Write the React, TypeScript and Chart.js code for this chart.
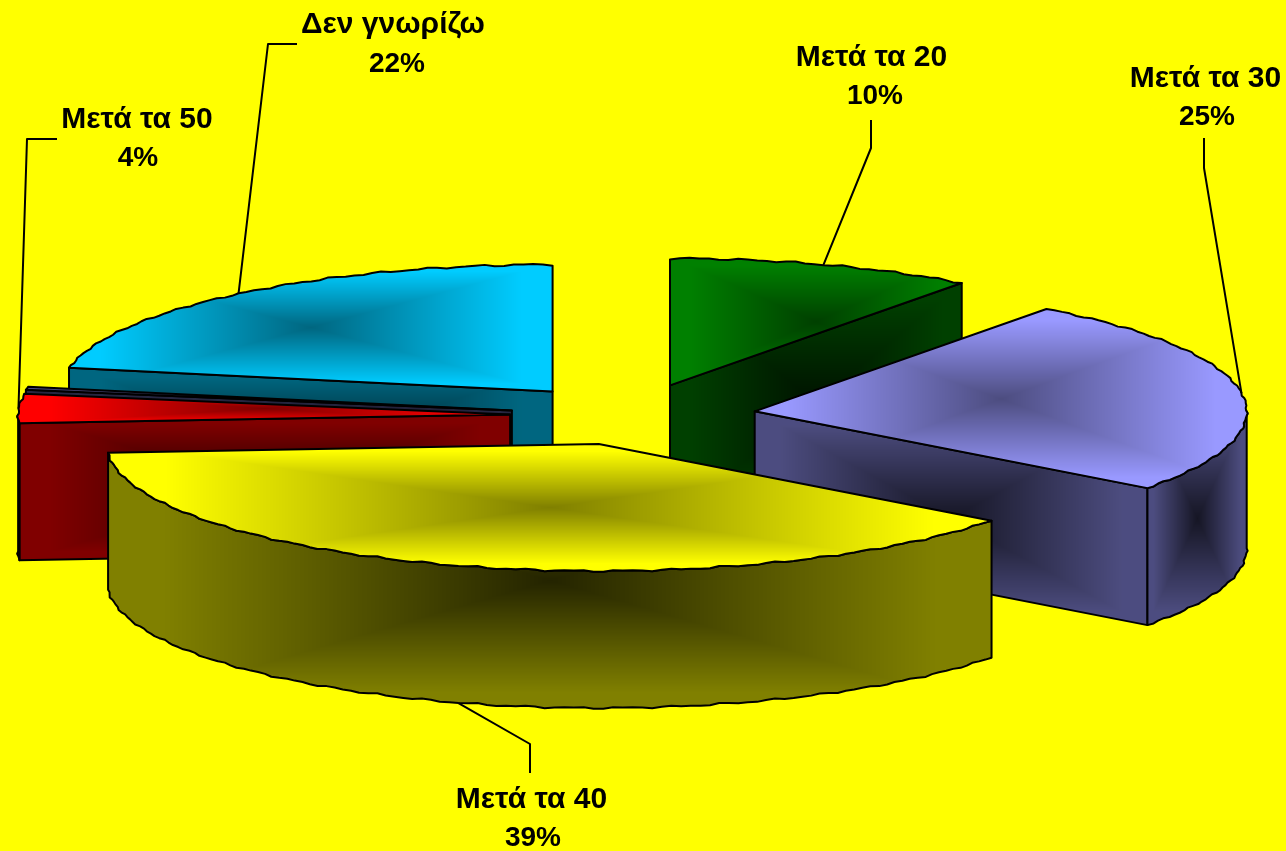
import React, { useEffect, useRef } from "react";
import { Chart, registerables } from "chart.js";

Chart.register(...registerables);

const categories = ["Μετά τα 20", "Μετά τα 30", "Μετά τα 40", "Μετά τα 50", "", "Δεν γνωρίζω"];
const values = [10.1, 25.2, 38.6, 3.7, 0.4, 22];
const faceColors: number[][] = [
  [0, 128, 0],
  [153, 153, 255],
  [255, 255, 0],
  [255, 0, 0],
  [76, 76, 128],
  [0, 204, 255],
];
const explode = [125, 125, 113, 121, 121, 123];

// Label placement only: text centres, first and second baseline, elbow of the leader line.
const labelLayout = [
  { cx: 871.5, cx2: 875, y1: 66, y2: 104, elbow: [871, 148], end: [871, 120] },
  { cx: 1205.5, cx2: 1207, y1: 87, y2: 125, elbow: [1204, 168], end: [1204, 138] },
  { cx: 531.5, cx2: 533, y1: 808, y2: 846, elbow: [530, 744], end: [530, 773] },
  { cx: 137, cx2: 138, y1: 128, y2: 166, elbow: [27, 139], end: [57, 139] },
  null,
  { cx: 393, cx2: 397, y1: 33, y2: 72, elbow: [268, 44], end: [297, 44] },
];

const RADIUS = 492;
const SQUASH = 127 / 492;
const DEPTH = 137;

type Pt = [number, number];

function fillRectGradient(ctx: CanvasRenderingContext2D, pts: Pt[], edge: number[], centre: number[]) {
  const xs = pts.map((p) => p[0]);
  const ys = pts.map((p) => p[1]);
  const x0 = Math.floor(Math.min(...xs));
  const x1 = Math.ceil(Math.max(...xs));
  const y0 = Math.floor(Math.min(...ys));
  const y1 = Math.ceil(Math.max(...ys));
  const w = Math.max(1, x1 - x0);
  const h = Math.max(1, y1 - y0);
  const off = document.createElement("canvas");
  off.width = w;
  off.height = h;
  const octx = off.getContext("2d")!;
  const img = octx.createImageData(w, h);
  const hw = w / 2;
  const hh = h / 2;
  for (let j = 0; j < h; j++) {
    for (let i = 0; i < w; i++) {
      const t = Math.min(1, Math.max(Math.abs(i + 0.5 - hw) / hw, Math.abs(j + 0.5 - hh) / hh) / 0.87);
      const k = (i + j * w) * 4;
      for (let c = 0; c < 3; c++) img.data[k + c] = centre[c] + (edge[c] - centre[c]) * t;
      img.data[k + 3] = 255;
    }
  }
  octx.putImageData(img, 0, 0);
  const trace = () => {
    ctx.beginPath();
    pts.forEach((p, i) => (i ? ctx.lineTo(p[0], p[1]) : ctx.moveTo(p[0], p[1])));
    ctx.closePath();
  };
  ctx.save();
  trace();
  ctx.clip();
  ctx.drawImage(off, x0, y0);
  ctx.restore();
  trace();
  ctx.stroke();
}

const mul = (c: number[], k: number) => c.map((v) => v * k);

const pie3d = {
  id: "pie3d",
  beforeDatasetsDraw(chart: any) {
    const ctx: CanvasRenderingContext2D = chart.ctx;
    const meta = chart.getDatasetMeta(0);
    const slices = meta.data.map((el: any, index: number) => {
      const p = el.getProps(["x", "y", "startAngle", "endAngle", "outerRadius"], true);
      const mid = (p.startAngle + p.endAngle) / 2;
      const offset = el.options.offset;
      return {
        index,
        mid,
        start: p.startAngle,
        end: p.endAngle,
        r: p.outerRadius,
        x: p.x + Math.cos(mid) * offset,
        y: p.y + Math.sin(mid) * offset * SQUASH,
      };
    });
    const rim = (s: any, a: number, dy = 0): Pt => {
      const w = 0.7 * Math.sin(a * 61) + 0.5 * Math.sin(a * 113);
      return [s.x + Math.cos(a) * (s.r + w), s.y + Math.sin(a) * (s.r * SQUASH + w) + dy];
    };
    ctx.save();
    ctx.strokeStyle = "#000";
    ctx.lineWidth = 2;
    ctx.lineJoin = "round";
    const ordered = [...slices].sort((a: any, b: any) => a.y - b.y);
    for (const s of ordered) {
      const col = faceColors[s.index];
      const wallEdge = mul(col, 0.5);
      const wallCentre = mul(col, 0.14);
      const sample = (a0: number, a1: number, dy = 0) => {
        const out: Pt[] = [];
        const n = Math.max(2, Math.ceil(Math.abs(a1 - a0) / 0.02));
        for (let i = 0; i <= n; i++) out.push(rim(s, a0 + ((a1 - a0) * i) / n, dy));
        return out;
      };
      const apex: Pt = [s.x, s.y];
      const radialWall = (a: number) => {
        const e = rim(s, a);
        fillRectGradient(
          ctx,
          [apex, e, [e[0], e[1] + DEPTH], [apex[0], apex[1] + DEPTH]],
          wallEdge,
          wallCentre
        );
      };
      if (-Math.cos(s.start) > 1e-3) radialWall(s.start);
      if (Math.cos(s.end) > 1e-3) radialWall(s.end);
      for (const shift of [-2 * Math.PI, 0, 2 * Math.PI]) {
        const a0 = Math.max(s.start, shift);
        const a1 = Math.min(s.end, shift + Math.PI);
        if (a1 > a0) {
          const top = sample(a0, a1);
          const bottom = sample(a0, a1, DEPTH).reverse();
          fillRectGradient(ctx, [...top, ...bottom], wallEdge, wallCentre);
        }
      }
      fillRectGradient(ctx, [apex, ...sample(s.start, s.end)], col, mul(col, 0.5));
    }
    // Leader lines and labels
    const data = chart.data.datasets[0].data as number[];
    const total = data.reduce((a, b) => a + b, 0);
    ctx.textAlign = "center";
    ctx.textBaseline = "alphabetic";
    ctx.fillStyle = "#000";
    for (const s of slices) {
      const lay = labelLayout[s.index];
      if (!lay) continue;
      const a = rim(s, s.mid, Math.sin(s.mid) > 0 ? DEPTH : 0);
      ctx.beginPath();
      ctx.moveTo(a[0], a[1]);
      ctx.lineTo(lay.elbow[0], lay.elbow[1]);
      ctx.lineTo(lay.end[0], lay.end[1]);
      ctx.stroke();
      ctx.font = 'bold 30px "Liberation Sans", Arial, sans-serif';
      ctx.fillText(chart.data.labels[s.index], lay.cx, lay.y1);
      ctx.font = 'bold 28px "Liberation Sans", Arial, sans-serif';
      ctx.fillText(Math.round((data[s.index] / total) * 100) + "%", lay.cx2, lay.y2);
    }
    ctx.restore();
    return false;
  },
};

export default function App() {
  const ref = useRef<HTMLCanvasElement>(null);
  useEffect(() => {
    document.documentElement.style.background = "#ffff00";
    document.body.style.margin = "0";
    document.body.style.background = "#ffff00";
    const chart = new Chart(ref.current!, {
      type: "pie",
      data: {
        labels: categories,
        datasets: [
          {
            data: values,
            backgroundColor: faceColors.map((c) => `rgb(${c.join(",")})`),
            borderColor: "#000",
            borderWidth: 0,
            offset: explode,
          },
        ],
      },
      options: {
        responsive: false,
        animation: false,
        radius: RADIUS,
        layout: { padding: { right: 24, bottom: 19 } },
        plugins: { legend: { display: false }, tooltip: { enabled: false } },
      } as any,
      plugins: [pie3d],
    } as any);
    return () => chart.destroy();
  }, []);
  return (
    <canvas
      ref={ref}
      width={1286}
      height={851}
      style={{ display: "block", width: 1286, height: 851, background: "#ffff00" }}
    />
  );
}
